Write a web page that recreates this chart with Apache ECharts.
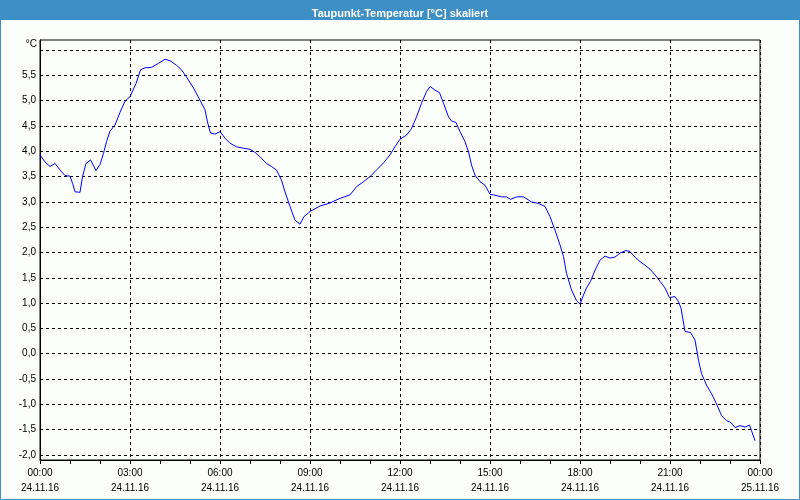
<!DOCTYPE html>
<html>
<head>
<meta charset="utf-8">
<script src="https://cdn.jsdelivr.net/npm/echarts@6/dist/echarts.min.js"></script>
<style>
html,body{margin:0;padding:0;background:#fcfefc;}
#c{width:800px;height:500px;}
</style>
</head>
<body>
<div id="c"></div>
<script>
// minutes after 24.11.16 00:00
const minutes = [0,10,20,30,40,50,60,65,70,80,85,92,101,112,120,127,133,140,150,160,170,180,192,201,210,223,237,250,260,273,283,293,307,320,330,335,341,350,360,370,380,393,407,420,430,440,453,463,473,483,490,500,510,520,528,540,560,580,600,620,633,647,660,673,687,700,710,720,733,743,753,763,773,780,790,799,807,817,823,832,840,850,857,863,870,880,890,900,907,923,933,941,953,967,983,997,1010,1020,1030,1040,1047,1053,1063,1073,1080,1087,1093,1101,1110,1120,1130,1140,1150,1160,1172,1180,1190,1200,1210,1220,1230,1240,1250,1259,1263,1270,1277,1282,1290,1301,1310,1317,1323,1333,1343,1353,1363,1373,1383,1390,1400,1410,1419,1423,1430];
const dewPoint = [3.93,3.79,3.70,3.76,3.63,3.52,3.51,3.37,3.20,3.19,3.50,3.76,3.83,3.62,3.74,3.96,4.19,4.40,4.52,4.77,4.99,5.08,5.34,5.61,5.65,5.66,5.74,5.82,5.79,5.70,5.61,5.47,5.25,5.01,4.82,4.58,4.36,4.34,4.39,4.26,4.16,4.09,4.06,4.04,3.98,3.89,3.76,3.70,3.63,3.43,3.20,2.91,2.64,2.56,2.71,2.81,2.92,2.98,3.07,3.14,3.30,3.40,3.50,3.63,3.77,3.93,4.09,4.24,4.32,4.45,4.68,4.95,5.18,5.28,5.21,5.16,4.95,4.68,4.60,4.57,4.39,4.19,3.99,3.73,3.53,3.40,3.33,3.15,3.14,3.10,3.10,3.05,3.10,3.10,3.00,2.97,2.91,2.71,2.44,2.15,1.92,1.59,1.26,1.05,0.98,1.16,1.30,1.43,1.65,1.85,1.93,1.89,1.91,1.99,2.04,2.02,1.91,1.82,1.75,1.67,1.56,1.43,1.30,1.11,1.10,1.13,1.03,0.90,0.44,0.42,0.27,-0.13,-0.39,-0.62,-0.79,-0.99,-1.22,-1.32,-1.37,-1.46,-1.42,-1.45,-1.41,-1.52,-1.72];
const yLabelValues = [-2,-1.5,-1,-0.5,0,0.5,1,1.5,2,2.5,3,3.5,4,4.5,5,5.5];
const yGridValues = [-2,-1.5,-1,-0.5,0,0.5,1,1.5,2,2.5,3,3.5,4,4.5,5,5.5,6];
const dayLabels = ['24.11.16','25.11.16'];
const titleText = 'Taupunkt-Temperatur [°C] skaliert';

const font = 'Liberation Sans';
const chart = echarts.init(document.getElementById('c'), null, {renderer:'canvas'});
const pad = n => (n < 10 ? '0' : '') + n;
chart.setOption({
  animation: false,
  backgroundColor: '#fcfefc',
  title: {
    text: titleText, left: 'center', top: 3,
    textStyle: {color:'#ffffff', fontSize: 11, fontWeight: 'bold', fontFamily: font}
  },
  graphic: [
    {type:'rect', z:-1, shape:{x:0,y:0,width:800,height:20}, style:{fill:'#3d8fc6'}},
    {type:'rect', z:-1, shape:{x:0.5,y:0.5,width:799,height:499}, style:{fill:null, stroke:'#3d8fc6', lineWidth:1}}
  ],
  grid: {left:40, right:40, top:40, bottom:40, show:true, borderColor:'#000', borderWidth:1, backgroundColor:'transparent'},
  xAxis: {
    type:'value', min:0, max:1440, interval:180,
    axisLine:{show:true, onZero:false, lineStyle:{color:'#000', width:1}},
    axisTick:{show:true, length:4, lineStyle:{color:'#000'}},
    minorTick:{show:true, splitNumber:3, length:4, lineStyle:{color:'#000'}},
    splitLine:{show:true, lineStyle:{color:'#000', type:[3,3], width:1}},
    axisLabel:{
      margin:6, fontSize:10, fontFamily:font, color:'#000', lineHeight:15,
      formatter: v => pad(Math.floor(v/60)%24) + ':' + pad(v%60) + '\n' + dayLabels[Math.floor(v/1440)]
    }
  },
  yAxis: {
    type:'value', min:-2.1, max:6.2,
    name:'°C', nameLocation:'end', nameGap:-4,
    nameTextStyle:{align:'right', verticalAlign:'middle', padding:[0,3,0,0], fontSize:10, fontFamily:font, color:'#000'},
    axisLine:{show:true, onZero:false, lineStyle:{color:'#000', width:1}},
    axisTick:{show:false, customValues: yGridValues},
    splitLine:{show:true, lineStyle:{color:'#000', type:[3,3], width:1}},
    axisLabel:{
      customValues: yLabelValues, margin:4, fontSize:10, fontFamily:font, color:'#000',
      formatter: v => v.toFixed(1).replace('.', ',')
    }
  },
  series: [{
    type:'line', data: minutes.map((m,i)=>[m, dewPoint[i]]),
    showSymbol:false, symbol:'none', smooth:false,
    lineStyle:{color:'#0000ff', width:1}
  }]
});
</script>
</body>
</html>
